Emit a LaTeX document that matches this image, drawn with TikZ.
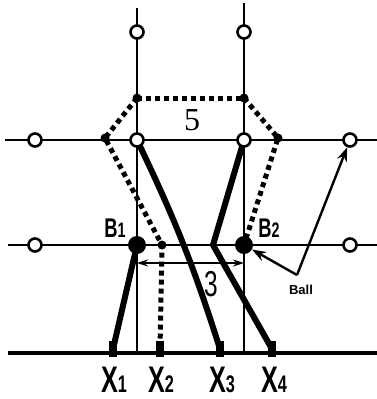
\documentclass[tikz,border=0pt]{standalone}
\usepackage{fontspec}
\setmainfont{Liberation Sans}
\newfontfamily\serifnum{Liberation Serif}
\usetikzlibrary{arrows.meta,calc}
\newcommand{\narrow}[1]{\scalebox{0.68}[1]{#1}}

\begin{document}
\begin{tikzpicture}[
    x=1pt, y=-1pt,
    >=Stealth,
    thinline/.style={line width=1.8pt},
    thickline/.style={line width=6pt},
    dotline/.style={line width=5pt, dash pattern=on 5pt off 4pt},
    opencirc/.style={circle, draw, fill=white, line width=2.6pt, minimum size=13pt, inner sep=0pt},
    ballpt/.style={circle, fill=black, minimum size=18pt, inner sep=0pt},
    dotpt/.style={circle, fill=black, minimum size=9pt, inner sep=0pt},
    xmark/.style={rectangle, fill=black, minimum width=8pt, minimum height=16pt, inner sep=0pt},
    xlab/.style={font=\bfseries\fontsize{37}{37}\selectfont, inner sep=0pt},
    blab/.style={font=\bfseries\fontsize{27}{27}\selectfont, inner sep=0pt}
]
\useasboundingbox (0,0) rectangle (377,399);

% grid lines
\coordinate (vltop) at (137,8);
\coordinate (vrtop) at (244,3);
\coordinate (vlbot) at (137,353);
\coordinate (vrbot) at (244,353);
\draw[thinline] (vltop) -- (vlbot);
\draw[thinline] (vrtop) -- (vrbot);
\coordinate (hua) at (5,140);
\coordinate (hub) at (377,140);
\coordinate (hla) at (8,245);
\coordinate (hlb) at (377,245);
\draw[thinline] (hua) -- (hub);
\draw[thinline] (hla) -- (hlb);
\coordinate (floora) at (8,353);
\coordinate (floorb) at (377,353);
\draw[line width=4pt] (floora) -- (floorb);

% dotted pentagon and dotted path to X2
\node[dotpt] (p1) at (137,98) {};
\node[dotpt] (p2) at (244,98) {};
\node[dotpt] (p3) at (105,138) {};
\node[dotpt] (p4) at (278,138) {};
\node[dotpt] (d2) at (162,245) {};
\node[xmark] (x1) at (113,349) {};
\node[xmark] (x2) at (160,349) {};
\node[xmark] (x3) at (220,349) {};
\node[xmark] (x4) at (272,349) {};
\node[ballpt] (b1) at (137,245) {};
\node[ballpt] (b2) at (244,245) {};
\draw[dotline] (p1.center) -- (p2.center);
\draw[dotline] (p1.center) -- (p3.center) -- (d2.center) -- (x2.center);
\draw[dotline] (p2.center) -- (p4.center) -- (b2.center);

% thick links
\coordinate (kink) at (213,245);
\draw[thickline] (b1.center) -- (x1.center);
\draw[thickline] (137,140) to[bend left=4] (x3.center);
\draw[thickline] (244,140) -- (kink) -- (x4.center);

% open circles
\node[opencirc] (tl) at (137,32) {};
\node[opencirc] (tr) at (244,32) {};
\node[opencirc] (u1) at (35,140) {};
\node[opencirc] (u2) at (137,140) {};
\node[opencirc] (u3) at (244,140) {};
\node[opencirc] (u4) at (350,140) {};
\node[opencirc] (l1) at (35,245) {};
\node[opencirc] (l4) at (350,245) {};

% distance arrow
\coordinate (da) at (137,263);
\coordinate (db) at (244,263);
\draw[line width=1.6pt, <->, >={Stealth[length=11pt,width=7pt]}] (da) -- (db);

% ball arrows
\coordinate (ballv) at (297,275);
\draw[line width=2.4pt, ->, >={Stealth[length=14pt,width=10pt]}] (ballv) -- (u4);
\draw[line width=2.4pt, ->, >={Stealth[length=14pt,width=10pt]}] (ballv) -- (b2);
\node[font=\bfseries\fontsize{13}{13}\selectfont] (balllab) at (301,290) {Ball};

% labels
\node[blab] (b1lab) at (115,228) {\narrow{B\fontsize{21}{21}\selectfont 1}};
\node[blab] (b2lab) at (269,228) {\narrow{B\fontsize{21}{21}\selectfont 2}};
\node[font=\serifnum\fontsize{32}{32}\selectfont] (five) at (192,120) {5};
\node[font=\fontsize{36}{36}\selectfont] (three) at (211,284) {\narrow{3}};
\foreach \i/\xx in {1/114,2/161,3/222,4/274}
  \node[xlab] (xl\i) at (\xx,380) {\narrow{X\fontsize{24}{24}\selectfont\i}};
\end{tikzpicture}
\end{document}
